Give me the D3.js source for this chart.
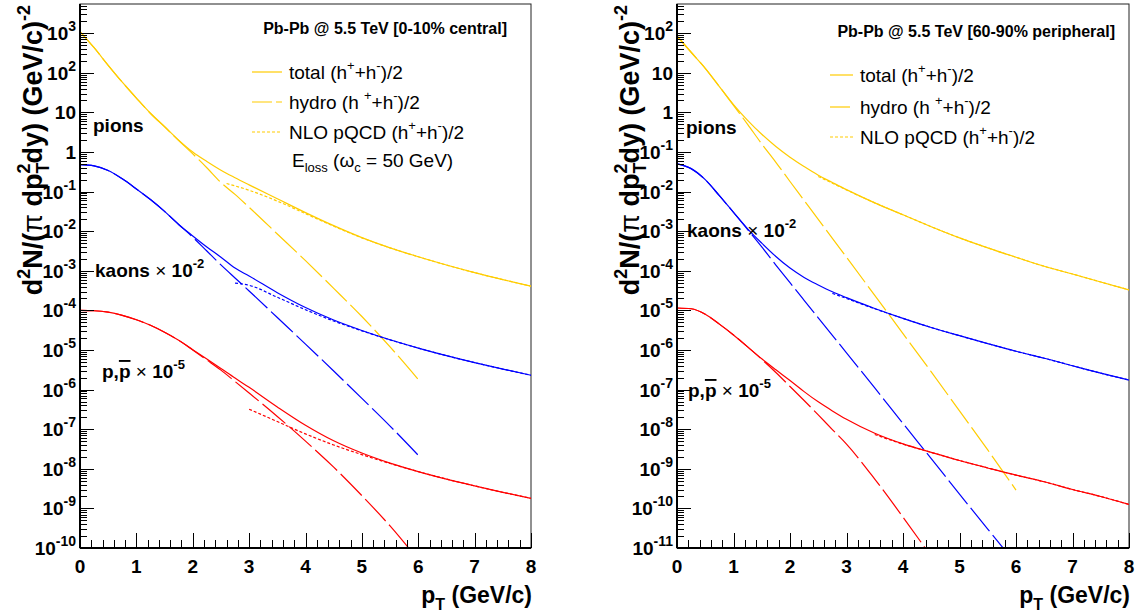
<!DOCTYPE html>
<html><head><meta charset="utf-8">
<script src="https://cdn.jsdelivr.net/npm/d3@7"></script>
<style>
body{margin:0;background:#fff}
svg{display:block}
text{font-family:"Liberation Sans",Arial,Helvetica,sans-serif;fill:#000}
</style></head>
<body><svg id="chart" width="1139" height="615"></svg>
<script>
// ---------------- DATA ----------------
const ptFull  = [0,0.25,0.5,0.75,1,1.25,1.5,1.75,2,2.25,2.5,2.75,3,3.5,4,4.5,5,5.5,6,6.5,7,7.5,8];
const ptHydro = [0,0.25,0.5,0.75,1,1.25,1.5,1.75,2,2.25,2.5,2.75,3,3.5,4,4.5,5,5.5,6];

// Central 0-10%
const cPionTotal = [1100,430,155,58,23,9.5,4.4,2.0,1.0,0.575,0.347,0.224,0.148,0.066,0.0295,0.0138,0.0069,0.0038,0.00226,0.0014,0.0009,0.0006,0.00041];
const cPionHydro = [1100,430,155,58,23,9.4,4.3,1.95,0.9,0.4,0.17,0.085,0.04,0.0085,0.0018,3.6e-4,7e-5,1.2e-5,1.8e-6];
const cPionNloPt = [2.6,3,3.5,4,4.5,5,5.5,6,6.5,7,7.5,8];
const cPionNlo   = [0.16,0.108,0.0575,0.0277,0.0134,0.0068,0.0038,0.00226,0.0014,0.0009,0.0006,0.00041];

const cKaonTotal = [0.48,0.447,0.34,0.21,0.117,0.063,0.0316,0.0148,0.0076,0.0040,0.0022,0.00117,7.4e-4,2.8e-4,1.18e-4,5.7e-5,3.11e-5,1.81e-5,1.12e-5,7.2e-6,4.8e-6,3.3e-6,2.3e-6];
const cKaonHydro = [0.48,0.447,0.34,0.21,0.117,0.063,0.0316,0.0148,0.00708,0.00316,0.00141,6.6e-4,3.1e-4,6.6e-5,1.41e-5,2.95e-6,6e-7,1.2e-7,2.2e-8];
const cKaonNloPt = [2.75,3,3.5,4,4.5,5,5.5,6,6.5,7,7.5,8];
const cKaonNlo   = [4.9e-4,4.3e-4,2.15e-4,1.04e-4,5.4e-5,3.05e-5,1.8e-5,1.12e-5,7.2e-6,4.8e-6,3.3e-6,2.3e-6];

const cProtTotal = [1e-4,9.8e-5,9e-5,7.5e-5,5.8e-5,4.2e-5,2.8e-5,1.76e-5,1.02e-5,5.9e-6,3.4e-6,1.95e-6,1.14e-6,3.66e-7,1.26e-7,5.1e-8,2.5e-8,1.39e-8,8.5e-9,5.5e-9,3.7e-9,2.55e-9,1.8e-9];
const cProtHydro = [1e-4,9.8e-5,9e-5,7.5e-5,5.8e-5,4.2e-5,2.8e-5,1.75e-5,1e-5,5.6e-6,3.1e-6,1.6e-6,8.2e-7,2.1e-7,5e-8,1.1e-8,2.1e-9,3.6e-10,5e-11];
const cProtNloPt = [3,3.5,4,4.5,5,5.5,6,6.5,7,7.5,8];
const cProtNlo   = [3.2e-7,1.56e-7,7.6e-8,4e-8,2.28e-8,1.36e-8,8.5e-9,5.5e-9,3.7e-9,2.55e-9,1.8e-9];

// Peripheral 60-90%
const pPionTotal = [85,33,13,4.5,1.58,0.63,0.28,0.138,0.074,0.043,0.026,0.017,0.0112,0.0052,0.0026,0.0013,6.8e-4,3.8e-4,2.2e-4,1.3e-4,8.3e-5,5.2e-5,3.3e-5];
const pPionHydro = [85,33,13,4.5,1.5,0.5,0.16,0.055,0.018,0.006,0.002,6.6e-4,2.2e-4,2.4e-5,2.6e-6,2.8e-7,2.9e-8,3e-9,2.9e-10];
const pPionNloPt = [2.5,2.75,3,3.5,4,4.5,5,5.5,6,6.5,7,7.5,8];
const pPionNlo   = [0.024,0.0163,0.011,0.0052,0.0026,0.0013,6.8e-4,3.8e-4,2.2e-4,1.3e-4,8.3e-5,5.2e-5,3.3e-5];

const pKaonTotal = [0.05,0.038,0.02,0.0079,0.003,0.00115,5e-4,2.3e-4,1.17e-4,6.8e-5,4.4e-5,2.95e-5,2.1e-5,1.12e-5,6.3e-6,3.7e-6,2.3e-6,1.45e-6,9.3e-7,6.2e-7,4e-7,2.6e-7,1.74e-7];
const pKaonHydro = [0.05,0.038,0.02,0.0079,0.003,0.0011,4e-4,1.4e-4,5e-5,1.8e-5,6.5e-6,2.35e-6,8.5e-7,1.1e-7,1.4e-8,1.8e-9,2.3e-10,3e-11,4e-12];
const pKaonNloPt = [2.75,3,3.5,4,4.5,5,5.5,6,6.5,7,7.5,8];
const pKaonNlo   = [2.7e-5,2e-5,1.1e-5,6.3e-6,3.7e-6,2.3e-6,1.45e-6,9.3e-7,6.2e-7,4e-7,2.6e-7,1.74e-7];

const pProtTotal = [1.15e-5,1.1e-5,8e-6,4.5e-6,2.4e-6,1.2e-6,6e-7,3.16e-7,1.7e-7,8.9e-8,4.9e-8,2.9e-8,1.78e-8,7.9e-9,4.26e-9,2.61e-9,1.62e-9,1.05e-9,6.9e-10,4.7e-10,3e-10,2e-10,1.26e-10];
const pProtHydro = [1.15e-5,1.1e-5,8e-6,4.5e-6,2.4e-6,1.2e-6,5.8e-7,2.7e-7,1.2e-7,5.3e-8,2.3e-8,9.8e-9,4.2e-9,5.5e-10,6e-11,6e-12,5e-13,4e-14,3e-15];
const pProtNloPt = [3.5,4,4.5,5,5.5,6,6.5,7,7.5,8];
const pProtNlo   = [7.35e-9,4.2e-9,2.6e-9,1.62e-9,1.05e-9,6.9e-10,4.7e-10,3e-10,2e-10,1.26e-10];

const xTickLabels = ["0","1","2","3","4","5","6","7","8"];
const legendLabels = ["total","hydro","NLO pQCD"];
const titles = ["Pb-Pb @ 5.5 TeV [0-10% central]","Pb-Pb @ 5.5 TeV [60-90% peripheral]"];

// ---------------- DRAW ----------------
const svg = d3.select("#chart");
const colPi = "#ffcc00", colK = "#0000ff", colP = "#ff0000";
const dashHydro = "30,5", dashNlo = "3,2";

function zip(a,b){ return a.map((v,i)=>[v,b[i]]); }

function drawPanel(cfg){
  const g = svg.append("g");
  const x = d3.scaleLinear().domain([0,8]).range([cfg.x0,cfg.x1]);
  const y = d3.scaleLog().domain([cfg.ymin,cfg.ymax]).range([cfg.y1,cfg.y0]);
  const clipId = "clip"+cfg.id;
  svg.append("clipPath").attr("id",clipId).append("rect")
    .attr("x",cfg.x0).attr("y",cfg.y0).attr("width",cfg.x1-cfg.x0).attr("height",cfg.y1-cfg.y0);

  // frame
  g.append("rect").attr("x",cfg.x0).attr("y",cfg.y0).attr("width",cfg.x1-cfg.x0).attr("height",cfg.y1-cfg.y0)
    .attr("fill","none").attr("stroke","#222").attr("stroke-width",1);

  // curves
  const line = d3.line().x(d=>x(d[0])).y(d=>y(d[1])).curve(d3.curveMonotoneX);
  const cg = g.append("g").attr("clip-path",`url(#${clipId})`).attr("fill","none").attr("stroke-width",1.2);
  cfg.series.forEach(s=>{
    cg.append("path").attr("d",line(zip(s.pt,s.v))).attr("stroke",s.c)
      .attr("stroke-dasharray",s.dash||null);
  });

  // y ticks
  const kmin = Math.round(Math.log10(cfg.ymin)), kmax = Math.floor(Math.log10(cfg.ymax));
  const tg = g.append("g").attr("stroke","#000").attr("stroke-width",1);
  for(let k=kmin;k<=kmax;k++){
    for(let m=1;m<=9;m++){
      const v = m*Math.pow(10,k);
      if(v>cfg.ymax) break;
      const yy = Math.round(y(v))+0.5;
      tg.append("line").attr("x1",cfg.x0).attr("x2",cfg.x0+(m===1?14:7)).attr("y1",yy).attr("y2",yy);
    }
    const t = g.append("text").attr("x",cfg.x0-4).attr("y",y(Math.pow(10,k))+7)
      .attr("text-anchor","end").attr("font-weight","bold").attr("font-size",19);
    if(k===0) t.text("1");
    else if(k===1) t.text("10");
    else { t.append("tspan").text("10"); t.append("tspan").attr("font-size",14).attr("dy",-9).text(String(k)); }
  }
  // x ticks
  for(let i=0;i<=40;i++){
    const v = i*0.2;
    const xx = Math.round(x(v))+0.5;
    tg.append("line").attr("x1",xx).attr("x2",xx).attr("y1",cfg.y1).attr("y2",cfg.y1-(i%5===0?15:8));
  }
  xTickLabels.forEach((l,i)=>{
    g.append("text").attr("x",x(i)).attr("y",cfg.y1+25).attr("text-anchor","middle")
      .attr("font-weight","bold").attr("font-size",19).text(l);
  });
  // axis lines
  g.append("line").attr("x1",cfg.x0).attr("x2",cfg.x1).attr("y1",cfg.y1).attr("y2",cfg.y1).attr("stroke","#000").attr("stroke-width",2);
  g.append("line").attr("x1",cfg.x0).attr("x2",cfg.x0).attr("y1",cfg.y0).attr("y2",cfg.y1).attr("stroke","#000").attr("stroke-width",2);

  // x title
  const xt = g.append("text").attr("x",cfg.x1+1).attr("y",cfg.y1+55).attr("text-anchor","end")
    .attr("font-weight","bold").attr("font-size",23);
  xt.append("tspan").text("p");
  xt.append("tspan").attr("font-size",16).attr("dy",7).text("T");
  xt.append("tspan").attr("dy",-7).text(" (GeV/c)");

  // y title
  const yt = g.append("text").attr("transform",`translate(${cfg.x0-38},${cfg.y0+1}) rotate(-90)`)
    .attr("text-anchor","end").attr("font-weight","bold").attr("font-size",27);
  yt.append("tspan").text("d");
  yt.append("tspan").attr("font-size",18).attr("dy",-12).text("2");
  yt.append("tspan").attr("dy",12).text("N/(");
  yt.append("tspan").attr("font-weight","normal").text("π");
  yt.append("tspan").text(" dp");
  yt.append("tspan").attr("font-size",18).attr("dy",7).text("T");
  yt.append("tspan").attr("font-size",18).attr("dx",-11).attr("dy",-19).text("2");
  yt.append("tspan").attr("dy",12).text("dy) (GeV/c)");
  yt.append("tspan").attr("font-size",18).attr("dy",-12).text("-2");

  // title
  g.append("text").attr("x",cfg.titleX).attr("y",cfg.titleY).attr("text-anchor","end")
    .attr("font-weight","bold").attr("font-size",16).text(cfg.title);

  // legend
  const L = cfg.legend;
  const dashes = [null,"20,4",dashNlo];
  legendLabels.forEach((lab,i)=>{
    const ly = L.y[i];
    g.append("line").attr("x1",L.x0).attr("x2",L.x1).attr("y1",ly).attr("y2",ly)
      .attr("stroke",colPi).attr("stroke-width",1.2).attr("stroke-dasharray",dashes[i]);
    const t = g.append("text").attr("x",L.tx).attr("y",ly+7).attr("font-size",19);
    t.append("tspan").text(lab+(i===1?" (h ":" (h"));
    t.append("tspan").attr("font-size",13).attr("dy",-9).text("+");
    t.append("tspan").attr("dy",9).text("+h");
    t.append("tspan").attr("font-size",13).attr("dy",-9).text("-");
    t.append("tspan").attr("dy",9).text(")/2");
  });
  if(L.eloss){
    const t = g.append("text").attr("x",L.tx+3).attr("y",L.y[2]+35).attr("font-size",19);
    t.append("tspan").text("E");
    t.append("tspan").attr("font-size",13).attr("dy",5).text("loss");
    t.append("tspan").attr("dy",-5).text(" (ω");
    t.append("tspan").attr("font-size",13).attr("dy",5).text("c");
    t.append("tspan").attr("dy",-5).text(" = 50 GeV)");
  }

  // species labels
  const S = cfg.labels;
  g.append("text").attr("x",S.pi[0]).attr("y",S.pi[1]).attr("font-weight","bold").attr("font-size",19).text("pions");
  const tk = g.append("text").attr("x",S.k[0]).attr("y",S.k[1]).attr("font-weight","bold").attr("font-size",19);
  tk.append("tspan").text("kaons");
  tk.append("tspan").attr("font-weight","normal").text(" × ");
  tk.append("tspan").text("10");
  tk.append("tspan").attr("font-size",13).attr("dy",-9).text("-2");
  const tp = g.append("text").attr("x",S.p[0]).attr("y",S.p[1]).attr("font-weight","bold").attr("font-size",19);
  tp.append("tspan").text("p,");
  tp.append("tspan").attr("text-decoration","overline").text("p");
  tp.append("tspan").attr("font-weight","normal").text(" × ");
  tp.append("tspan").text("10");
  tp.append("tspan").attr("font-size",13).attr("dy",-9).text("-5");
}

const decPx = 39.6;
drawPanel({
  id:"L", x0:80, x1:531, y0:4, y1:548, ymin:1e-10, ymax:Math.pow(10,-10+(548-4)/decPx),
  title:titles[0], titleX:507, titleY:34,
  legend:{x0:252,x1:282,tx:289,y:[72,102,132],eloss:true},
  labels:{pi:[93,132],k:[95,277],p:[102,378]},
  series:[
    {pt:ptFull,v:cPionTotal,c:colPi},{pt:ptHydro,v:cPionHydro,c:colPi,dash:dashHydro},{pt:cPionNloPt,v:cPionNlo,c:colPi,dash:dashNlo},
    {pt:ptFull,v:cKaonTotal,c:colK},{pt:ptHydro,v:cKaonHydro,c:colK,dash:dashHydro},{pt:cKaonNloPt,v:cKaonNlo,c:colK,dash:dashNlo},
    {pt:ptFull,v:cProtTotal,c:colP},{pt:ptHydro,v:cProtHydro,c:colP,dash:dashHydro},{pt:cProtNloPt,v:cProtNlo,c:colP,dash:dashNlo}
  ]
});
drawPanel({
  id:"R", x0:677, x1:1129, y0:4, y1:548, ymin:1e-11, ymax:Math.pow(10,-11+(548-4)/decPx),
  title:titles[1], titleX:1115, titleY:37,
  legend:{x0:830,x1:853,tx:860,y:[75,107,137],eloss:false},
  labels:{pi:[686,134],k:[687,237],p:[688,397]},
  series:[
    {pt:ptFull,v:pPionTotal,c:colPi},{pt:ptHydro,v:pPionHydro,c:colPi,dash:dashHydro},{pt:pPionNloPt,v:pPionNlo,c:colPi,dash:dashNlo},
    {pt:ptFull,v:pKaonTotal,c:colK},{pt:ptHydro,v:pKaonHydro,c:colK,dash:dashHydro},{pt:pKaonNloPt,v:pKaonNlo,c:colK,dash:dashNlo},
    {pt:ptFull,v:pProtTotal,c:colP},{pt:ptHydro,v:pProtHydro,c:colP,dash:dashHydro},{pt:pProtNloPt,v:pProtNlo,c:colP,dash:dashNlo}
  ]
});
</script></body></html>
